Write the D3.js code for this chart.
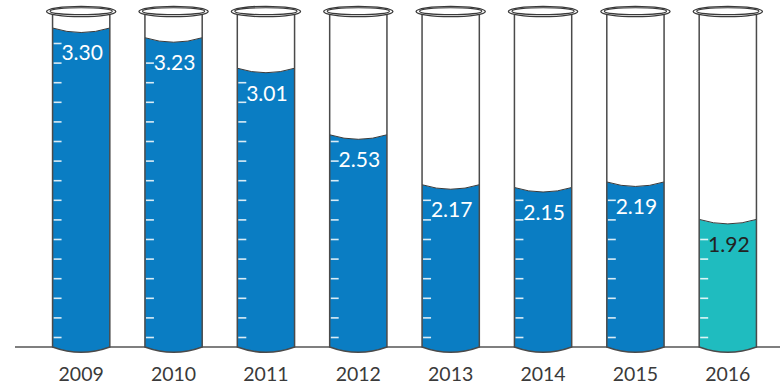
<!DOCTYPE html>
<html>
<head>
<meta charset="utf-8">
<script src="https://cdn.jsdelivr.net/npm/d3@7"></script>
<style>
  body { margin: 0; background: #fff; }
  svg { display: block; }
  text { font-family: Lato, "Open Sans", sans-serif; font-weight: 400; }
</style>
</head>
<body>
<svg id="chart" width="780" height="385"></svg>
<script>
const years = ['2009', '2010', '2011', '2012', '2013', '2014', '2015', '2016']
const values = [3.30, 3.23, 3.01, 2.53, 2.17, 2.15, 2.19, 1.92]
const highlighted = ['2016'] // last year drawn in teal

const width = 780
const baseY = 347      // where tubes meet the floor line
const rimY = 11.5

const svg = d3.select('#chart')

const x = d3.scaleBand()
    .domain(years)
    .range([35, 774])
    .padding(0)

const tubeW = x.bandwidth() * 0.62

// fill heights are not quite proportional in the original, a linear fit is close enough
const y = d3.scaleLinear()
    .domain([1, 3.3])
    .range([baseY, 28])

const data = years.map((year, i) => ({ year: year, value: values[i] }))

// floor line
svg.append('line')
    .attr('x1', 15).attr('x2', width)
    .attr('y1', baseY).attr('y2', baseY)
    .attr('stroke', '#555').attr('stroke-width', 1.3)

const tube = svg.selectAll('g.tube')
    .data(data)
    .join('g')
    .classed('tube', true)
    .attr('transform', d => `translate(${x(d.year) + x.bandwidth() / 2},0)`)

const half = tubeW / 2
const meniscus = 4.5
const bottom = 5.3

// liquid
tube.append('path')
    .attr('d', d => {
        let top = y(d.value)
        return `M${-half},${top} Q0,${top + meniscus * 2} ${half},${top} L${half},${baseY} Q0,${baseY + bottom * 2} ${-half},${baseY} Z`
    })
    .attr('fill', d => highlighted.includes(d.year) ? '#1fbcbf' : '#0a7dc3')

// meniscus line
tube.append('path')
    .attr('d', d => {
        let top = y(d.value)
        return `M${-half},${top} Q0,${top + meniscus * 2} ${half},${top}`
    })
    .attr('fill', 'none')
    .attr('stroke', '#3a3a3a')
    .attr('stroke-width', 1)

// graduations, only visible inside the liquid
const ticks = d3.range(16).map(i => 43.5 + i * 19.6)
tube.selectAll('line.grad')
    .data(d => ticks.filter(t => t > y(d.value) + 6))
    .join('line')
    .classed('grad', true)
    .attr('x1', -half + 1).attr('x2', -half + 9)
    .attr('y1', t => t).attr('y2', t => t)
    .attr('stroke', '#fff')
    .attr('stroke-opacity', 0.85)
    .attr('stroke-width', 1.6)

// glass outline
tube.append('path')
    .attr('d', `M${-half},${rimY + 3} L${-half},${baseY} Q0,${baseY + bottom * 2} ${half},${baseY} L${half},${rimY + 3}`)
    .attr('fill', 'none')
    .attr('stroke', '#4a4a4a')
    .attr('stroke-width', 1.5)

// rim
tube.append('ellipse')
    .attr('cx', 0).attr('cy', rimY)
    .attr('rx', half + 6).attr('ry', 5.2)
    .attr('fill', '#fff')
    .attr('stroke', '#3a3a3a')
    .attr('stroke-width', 1.3)

tube.append('ellipse')
    .attr('cx', 0).attr('cy', rimY - 0.3)
    .attr('rx', half + 2.5).attr('ry', 3.4)
    .attr('fill', 'none')
    .attr('stroke', '#3a3a3a')
    .attr('stroke-width', 1.1)

// value labels
tube.append('text')
    .attr('x', 1)
    .attr('y', d => y(d.value) + 25)
    .attr('dy', '0.35em')
    .attr('text-anchor', 'middle')
    .attr('font-size', 21)
    .attr('fill', d => highlighted.includes(d.year) ? '#222' : '#fff')
    .text(d => d.value.toFixed(2))

// year labels
tube.append('text')
    .attr('x', 0)
    .attr('y', 381)
    .attr('text-anchor', 'middle')
    .attr('font-size', 19.5)
    .attr('fill', '#3a3a3a')
    .text(d => d.year)
</script>
</body>
</html>
